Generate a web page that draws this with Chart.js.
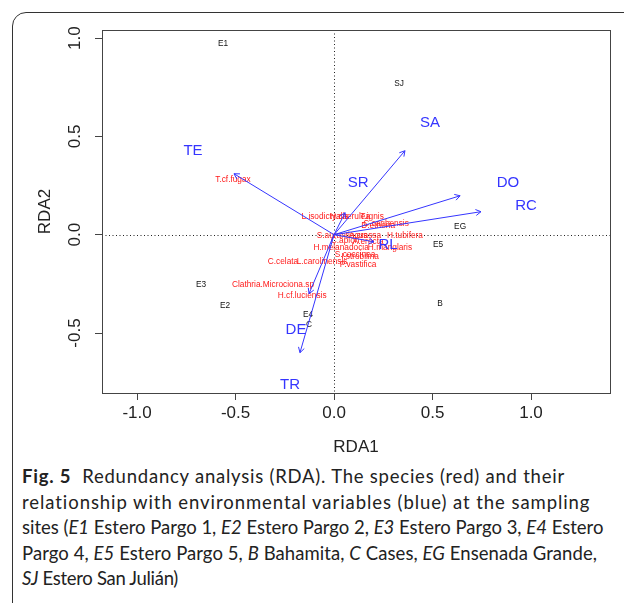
<!DOCTYPE html>
<html lang="en">
<head>
    <meta charset="UTF-8">
    <title>Fig. 5 RDA</title>
    <script src="https://cdn.jsdelivr.net/npm/chart.js"></script>
    <style>
        html, body { margin: 0; padding: 0; background: #fff; }
        body { width: 624px; height: 603px; overflow: hidden; position: relative; }
        .frame {
            position: absolute; left: 12px; top: 12px; width: 700px; height: 640px;
            border: 1.3px solid #333; border-radius: 14px;
        }
        #wrap { position: absolute; left: 0; top: 0; width: 624px; height: 460px; }
        .caption {
            position: absolute; left: 22px; top: 464px;
            font-family: 'Lato', 'Noto Sans', sans-serif; font-size: 18.5px; color: #222;
            line-height: 25.5px;
        }
        .caption div { white-space: nowrap; width: max-content; }
        .caption b { font-weight: 700; }
    </style>
</head>
<body>
    <div class="frame"></div>
    <div id="wrap"><canvas id="rda" width="624" height="460"></canvas></div>
    <div class="caption" id="caption">
        <div data-w="543"><b>Fig. 5</b>&nbsp; Redundancy analysis (RDA). The species (red) and their</div>
        <div data-w="569">relationship with environmental variables (blue) at the sampling</div>
        <div data-w="581">sites (<i>E1</i> Estero Pargo 1, <i>E2</i> Estero Pargo 2, <i>E3</i> Estero Pargo 3, <i>E4</i> Estero</div>
        <div data-w="575">Pargo 4, <i>E5</i> Estero Pargo 5, <i>B</i> Bahamita, <i>C</i> Cases, <i>EG</i> Ensenada Grande,</div>
        <div data-w="156"><i>SJ</i> Estero San Julián)</div>
    </div>

    <script>
        // sites (black)
        const siteNames = ['E1', 'SJ', 'EG', 'E5', 'B', 'E3', 'E2', 'E4', 'C'];
        const siteX = [-0.563, 0.330, 0.640, 0.528, 0.538, -0.675, -0.553, -0.132, -0.127];
        const siteY = [0.971, 0.768, 0.041, -0.051, -0.351, -0.254, -0.361, -0.407, -0.458];

        // species (red)
        const speciesNames = ['T.cf.fugax', 'C.celata', 'L.carolinensis', 'Clathria.Microciona.sp', 'H.cf.luciensis',
            'P.vastifica', 'L.isodictyalis', 'H.caerulea', 'T.ignis', 'C.caribensis', 'D.etheria',
            'S.aurantiacus', 'A.crassa', 'H.tubifera', 'C.apion', 'A.erecta', 'H.melanadocia',
            'H.manglaris', 'S.coccinea', 'I.strobilina'];
        const speciesX = [-0.513, -0.259, -0.061, -0.310, -0.162, 0.122, -0.046, 0.081, 0.193, 0.264, 0.224,
            0.041, 0.157, 0.360, 0.056, 0.173, 0.036, 0.284, 0.107, 0.132];
        const speciesY = [0.280, -0.137, -0.137, -0.254, -0.310, -0.153, 0.092, 0.094, 0.092, 0.056, 0.046,
            -0.005, -0.005, -0.005, -0.031, -0.036, -0.066, -0.066, -0.102, -0.112];

        // environmental variables (blue arrows)
        const envNames = ['TE', 'SA', 'SR', 'DO', 'RC', 'RL', 'DE', 'TR'];
        const envX = [-0.508, 0.360, 0.056, 0.640, 0.746, 0.203, -0.127, -0.173];
        const envY = [0.310, 0.427, 0.112, 0.198, 0.117, -0.036, -0.300, -0.600];
        const envLabelX = [-0.716, 0.487, 0.122, 0.883, 0.975, 0.274, -0.193, -0.223];
        const envLabelY = [0.427, 0.569, 0.264, 0.264, 0.147, -0.051, -0.483, -0.763];

        const xTicks = [-1.0, -0.5, 0.0, 0.5, 1.0];
        const yTicks = [-0.5, 0.0, 0.5, 1.0];

        const BLUE = '#3535ff';
        const RED = '#ff1a1a';
        const AXIS = '#444';

        const datasets = [
            {
                label: 'sites', names: siteNames, color: '#111',
                data: siteX.map((x, i) => ({ x: x, y: siteY[i] })),
                pointRadius: 0, showLine: false
            },
            {
                label: 'species', names: speciesNames, color: RED,
                data: speciesX.map((x, i) => ({ x: x, y: speciesY[i] })),
                pointRadius: 0, showLine: false
            }
        ];
        envNames.forEach((n, i) => {
            datasets.push({
                label: n, env: true, labelAt: { x: envLabelX[i], y: envLabelY[i] },
                data: [{ x: 0, y: 0 }, { x: envX[i], y: envY[i] }],
                showLine: true, borderColor: BLUE, borderWidth: 1, pointRadius: 0, fill: false
            });
        });

        const rdaPlugin = {
            id: 'rda',
            beforeDatasetsDraw(chart) {
                const ctx = chart.ctx, a = chart.chartArea;
                const xs = chart.scales.x, ys = chart.scales.y;
                ctx.save();
                // dotted zero lines
                ctx.strokeStyle = '#222';
                ctx.lineWidth = 1;
                ctx.setLineDash([1, 2.5]);
                const x0 = Math.round(xs.getPixelForValue(0)) + 0.5;
                const y0 = Math.round(ys.getPixelForValue(0)) + 0.5;
                ctx.beginPath();
                ctx.moveTo(x0, a.top); ctx.lineTo(x0, a.bottom);
                ctx.moveTo(a.left, y0); ctx.lineTo(a.right, y0);
                ctx.stroke();
                ctx.setLineDash([]);

                // site + species labels
                ctx.font = '8.3px "Liberation Sans", Arial, sans-serif';
                ctx.textAlign = 'center';
                ctx.textBaseline = 'middle';
                [0, 1].forEach(di => {
                    const ds = chart.data.datasets[di];
                    const meta = chart.getDatasetMeta(di);
                    ctx.fillStyle = ds.color;
                    meta.data.forEach((pt, i) => ctx.fillText(ds.names[i], pt.x, pt.y));
                });
                ctx.restore();
            },
            afterDatasetsDraw(chart) {
                const ctx = chart.ctx;
                const xs = chart.scales.x, ys = chart.scales.y;
                ctx.save();
                ctx.strokeStyle = BLUE;
                ctx.fillStyle = BLUE;
                ctx.lineWidth = 1;
                ctx.font = '15px "Liberation Sans", Arial, sans-serif';
                ctx.textAlign = 'center';
                ctx.textBaseline = 'middle';
                chart.data.datasets.forEach((ds, di) => {
                    if (!ds.env) return;
                    const pts = chart.getDatasetMeta(di).data;
                    const p0 = pts[0], p1 = pts[1];
                    const ang = Math.atan2(p1.y - p0.y, p1.x - p0.x);
                    const len = 6;
                    ctx.beginPath();
                    ctx.moveTo(p1.x - len * Math.cos(ang - Math.PI / 6), p1.y - len * Math.sin(ang - Math.PI / 6));
                    ctx.lineTo(p1.x, p1.y);
                    ctx.lineTo(p1.x - len * Math.cos(ang + Math.PI / 6), p1.y - len * Math.sin(ang + Math.PI / 6));
                    ctx.stroke();
                    ctx.fillText(ds.label, xs.getPixelForValue(ds.labelAt.x), ys.getPixelForValue(ds.labelAt.y));
                });
                ctx.restore();
            },
            afterDraw(chart) {
                const ctx = chart.ctx, a = chart.chartArea;
                const xs = chart.scales.x, ys = chart.scales.y;
                ctx.save();
                // box
                ctx.strokeStyle = AXIS;
                ctx.lineWidth = 1;
                ctx.strokeRect(Math.round(a.left) + 0.5, Math.round(a.top) + 0.5,
                    Math.round(a.right - a.left), Math.round(a.bottom - a.top));
                // y tick labels, rotated like base R
                ctx.fillStyle = '#222';
                ctx.font = '17px "Liberation Sans", Arial, sans-serif';
                ctx.textAlign = 'center';
                ctx.textBaseline = 'middle';
                yTicks.forEach(v => {
                    ctx.save();
                    ctx.translate(75, ys.getPixelForValue(v));
                    ctx.rotate(-Math.PI / 2);
                    ctx.fillText(v.toFixed(1), 0, 0);
                    ctx.restore();
                });
                // axis titles
                ctx.fillText('RDA1', (a.left + a.right) / 2, 447);
                ctx.save();
                ctx.translate(45, (a.top + a.bottom) / 2);
                ctx.rotate(-Math.PI / 2);
                ctx.fillText('RDA2', 0, 0);
                ctx.restore();
                ctx.restore();
            }
        };

        new Chart(document.getElementById('rda'), {
            type: 'scatter',
            data: { datasets: datasets },
            plugins: [rdaPlugin],
            options: {
                responsive: false,
                animation: false,
                events: [],
                layout: { padding: { top: 30, right: 14, left: 0, bottom: 0 } },
                plugins: { legend: { display: false }, tooltip: { enabled: false } },
                scales: {
                    x: {
                        type: 'linear', min: -1.178, max: 1.401,
                        afterBuildTicks: s => { s.ticks = xTicks.map(v => ({ value: v })); },
                        afterFit: s => { s.height = 67; },
                        ticks: {
                            callback: v => v.toFixed(1),
                            font: { family: '"Liberation Sans", Arial, sans-serif', size: 17 },
                            color: '#222', padding: 3, maxRotation: 0
                        },
                        grid: { drawOnChartArea: false, drawTicks: true, tickLength: 7, color: AXIS },
                        border: { color: AXIS }
                    },
                    y: {
                        type: 'linear', min: -0.805, max: 1.041,
                        afterBuildTicks: s => { s.ticks = yTicks.map(v => ({ value: v })); },
                        afterFit: s => { s.width = 102; },
                        ticks: { display: false },
                        grid: { drawOnChartArea: false, drawTicks: true, tickLength: 7, color: AXIS },
                        border: { color: AXIS }
                    }
                }
            }
        });

        // squeeze each caption line to the width it has in the figure
        document.querySelectorAll('#caption div').forEach(line => {
            const target = +line.dataset.w;
            const chars = line.textContent.length;
            const w = line.getBoundingClientRect().width;
            line.style.letterSpacing = ((target - w) / chars).toFixed(2) + 'px';
        });
    </script>
</body>
</html>
